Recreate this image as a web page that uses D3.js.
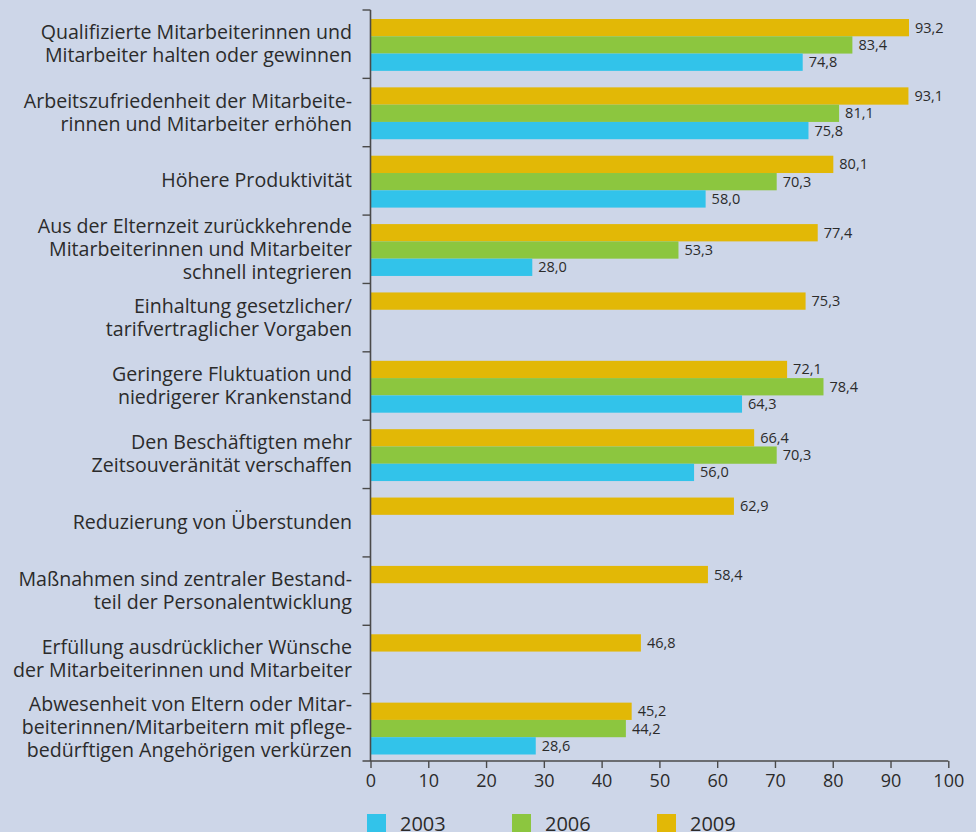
<!DOCTYPE html>
<html>
<head>
<meta charset="utf-8">
<script src="https://cdn.jsdelivr.net/npm/d3@7"></script>
<style>
  body { margin: 0; background: #cdd6e8; }
  svg { display: block; font-family: "Open Sans", "Noto Sans", sans-serif; }
</style>
</head>
<body>
<svg id="chart" width="976" height="832"></svg>
<script>
// categories (line breaks as in the original)
const categories = [
  ["Qualifizierte Mitarbeiterinnen und", "Mitarbeiter halten oder gewinnen"],
  ["Arbeitszufriedenheit der Mitarbeite-", "rinnen und Mitarbeiter erhöhen"],
  ["Höhere Produktivität"],
  ["Aus der Elternzeit zurückkehrende", "Mitarbeiterinnen und Mitarbeiter", "schnell integrieren"],
  ["Einhaltung gesetzlicher/", "tarifvertraglicher Vorgaben"],
  ["Geringere Fluktuation und", "niedrigerer Krankenstand"],
  ["Den Beschäftigten mehr", "Zeitsouveränität verschaffen"],
  ["Reduzierung von Überstunden"],
  ["Maßnahmen sind zentraler Bestand-", "teil der Personalentwicklung"],
  ["Erfüllung ausdrücklicher Wünsche", "der Mitarbeiterinnen und Mitarbeiter"],
  ["Abwesenheit von Eltern oder Mitar-", "beiterinnen/Mitarbeitern mit pflege-", "bedürftigen Angehörigen verkürzen"]
];
const years = ["2009", "2006", "2003"];
const values2009 = [93.2, 93.1, 80.1, 77.4, 75.3, 72.1, 66.4, 62.9, 58.4, 46.8, 45.2];
const values2006 = [83.4, 81.1, 70.3, 53.3, null, 78.4, 70.3, null, null, null, 44.2];
const values2003 = [74.8, 75.8, 58.0, 28.0, null, 64.3, 56.0, null, null, null, 28.6];
const xTicks = [0, 10, 20, 30, 40, 50, 60, 70, 80, 90, 100];
const legendYears = ["2003", "2006", "2009"];

const colors = { "2009": "#e2b806", "2006": "#8cc63f", "2003": "#32c3ea" };
const seriesByYear = { "2009": values2009, "2006": values2006, "2003": values2003 };

const svg = d3.select('#chart');
const axisColor = '#4a4a4a';
const textColor = '#2b2b2b';

const x = d3.scaleLinear().domain([0, 100]).range([370.5, 948.3]);
const y = d3.scaleBand().domain(d3.range(categories.length)).range([10, 762]).padding(0);
const yInner = d3.scaleBand().domain(years).range([9, y.bandwidth() - 7.5]).padding(0);

// flatten for drawing
const rows = [];
categories.forEach((c, i) => {
  years.forEach(yr => {
    const v = seriesByYear[yr][i];
    if (v != null) rows.push({ i, yr, v });
  });
});

const g = svg.append('g');

g.selectAll('rect.bar')
  .data(rows)
  .enter()
  .append('rect')
  .attr('class', 'bar')
  .attr('x', x(0))
  .attr('y', d => y(d.i) + yInner(d.yr))
  .attr('width', d => x(d.v) - x(0))
  .attr('height', yInner.bandwidth())
  .attr('fill', d => colors[d.yr]);

// value labels
g.selectAll('text.val')
  .data(rows)
  .enter()
  .append('text')
  .attr('class', 'val')
  .attr('x', d => x(d.v) + 6)
  .attr('y', d => y(d.i) + yInner(d.yr) + yInner.bandwidth() / 2 + 5)
  .style('font-size', '14.5px')
  .style('fill', textColor)
  .text(d => d3.format('.1f')(d.v).replace('.', ','));

// y axis (category ticks on the band edges)
const yAxisG = svg.append('g');
yAxisG.append('line')
  .attr('x1', x(0)).attr('x2', x(0))
  .attr('y1', y(0)).attr('y2', 761)
  .attr('stroke', axisColor).attr('stroke-width', 1.6);
yAxisG.selectAll('line.ytick')
  .data(d3.range(categories.length))
  .enter()
  .append('line')
  .attr('class', 'ytick')
  .attr('x1', x(0) - 8).attr('x2', x(0))
  .attr('y1', d => y(d)).attr('y2', d => y(d))
  .attr('stroke', axisColor).attr('stroke-width', 1.4);

// category labels
const lineH = 23;
const labels = svg.append('g').selectAll('text.cat')
  .data(categories)
  .enter()
  .append('text')
  .attr('class', 'cat')
  .attr('text-anchor', 'end')
  .style('font-size', '19.6px')
  .style('fill', textColor);
labels.each(function (lines, i) {
  const cy = y(i) + y.bandwidth() / 2;
  const startY = cy - (lines.length - 1) * lineH / 2 + 6.5;
  d3.select(this).selectAll('tspan')
    .data(lines)
    .enter()
    .append('tspan')
    .attr('x', 352)
    .attr('y', (d, k) => startY + k * lineH)
    .text(d => d);
});

// x axis
const xAxis = d3.axisBottom(x).tickValues(xTicks).tickSize(7).tickPadding(6).tickSizeOuter(0);
const xg = svg.append('g')
  .attr('transform', 'translate(0,761)')
  .call(xAxis);
xg.select('.domain').remove();
xg.append('line')
  .attr('x1', x(0) - 8).attr('x2', x(100))
  .attr('stroke', axisColor).attr('stroke-width', 1.6);
xg.selectAll('.tick line').attr('stroke', axisColor).attr('stroke-width', 1.4);
xg.selectAll('.tick text')
  .style('font-size', '18px')
  .style('font-family', '"Open Sans", "Noto Sans", sans-serif')
  .style('fill', textColor);

// legend
const legendX = d3.scalePoint().domain(legendYears).range([367, 657]);
const leg = svg.append('g').selectAll('g.leg')
  .data(legendYears)
  .enter()
  .append('g')
  .attr('class', 'leg')
  .attr('transform', d => `translate(${legendX(d)},814)`);
leg.append('rect')
  .attr('width', 19).attr('height', 19)
  .attr('fill', d => colors[d]);
leg.append('text')
  .attr('x', 33).attr('y', 16.5)
  .style('font-size', '20px')
  .style('fill', textColor)
  .text(d => d);
</script>
</body>
</html>
